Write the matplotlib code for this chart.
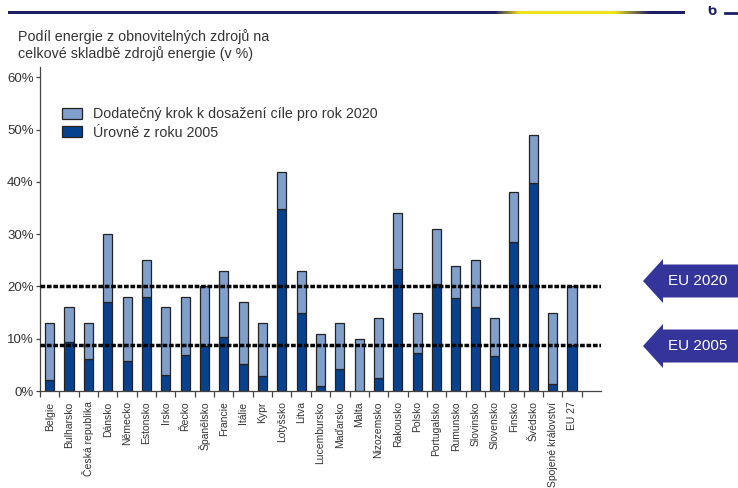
import matplotlib
matplotlib.use('Agg')
import matplotlib.pyplot as plt
import numpy as np
from matplotlib.patches import Polygon, Patch
from matplotlib.lines import Line2D

countries = ["Belgie", "Bulharsko", "Česká republika", "Dánsko", "Německo", "Estonsko",
             "Irsko", "Řecko", "Španělsko", "Francie", "Itálie", "Kypr", "Lotyšsko",
             "Litva", "Lucembursko", "Maďarsko", "Malta", "Nizozemsko", "Rakousko",
             "Polsko", "Portugalsko", "Rumunsko", "Slovinsko", "Slovensko", "Finsko",
             "Švédsko", "Spojené království", "EU 27"]
level_2005 = [2.2, 9.4, 6.1, 17.0, 5.8, 18.0, 3.1, 6.9, 8.7, 10.3, 5.2, 2.9, 34.9,
              15.0, 0.9, 4.3, 0.0, 2.4, 23.3, 7.2, 20.5, 17.8, 16.0, 6.7, 28.5,
              39.8, 1.3, 8.8]
target_2020 = [13, 16, 13, 30, 18, 25, 16, 18, 20, 23, 17, 13, 42, 23, 11, 13, 10,
               14, 34, 15, 31, 24, 25, 14, 38, 49, 15, 20]
eu_lines = [20, 8.8]
eu_labels = ["EU 2020", "EU 2005"]
ytick_values = [0, 10, 20, 30, 40, 50, 60]
legend_labels = ["Dodatečný krok k dosažení cíle pro rok 2020", "Úrovně z roku 2005"]
title = "Podíl energie z obnovitelných zdrojů na\ncelkové skladbě zdrojů energie (v %)"

plt.rcParams['font.family'] = ['Liberation Sans', 'DejaVu Sans']

W, H = 738, 488
fig = plt.figure(figsize=(7.38, 4.88), dpi=100)


def fx(px):
    return px / W


def fy(py):
    return 1 - py / H


LIGHT = '#809fcb'
DARK = '#08428f'
EDGE = '#222222'
NAVY = '#1c1f63'
ARROW = '#34349a'
TXT = '#333333'

ax = fig.add_axes([fx(40), fy(391), fx(601) - fx(40), fy(67) - fy(391)])
x = np.arange(len(countries))
base = np.array(level_2005)
extra = np.array(target_2020) - base
ax.bar(x, base, width=0.47, color=DARK, edgecolor=EDGE, linewidth=0.9, zorder=2)
ax.bar(x, extra, bottom=base, width=0.47, color=LIGHT, edgecolor=EDGE, linewidth=0.9, zorder=2)

for v in eu_lines:
    ax.axhline(v, color='black', lw=2.5, linestyle=(0, (1.35, 0.5)), zorder=3)

ax.set_xlim(-0.5, 28.5)
ax.set_ylim(0, 62)
for s in ['top', 'right']:
    ax.spines[s].set_visible(False)
for s in ['left', 'bottom']:
    ax.spines[s].set_color('#444444')
    ax.spines[s].set_linewidth(0.9)

ax.set_xticks(x)
ax.set_xticklabels(countries, rotation=90, fontsize=7.5, color=TXT)
ax.set_xticks(np.arange(-0.5, len(countries), 1), minor=True)
ax.tick_params(axis='x', which='major', length=0, pad=7.5)
ax.tick_params(axis='x', which='minor', length=4, width=0.9, color='#444444', direction='out')
ax.set_yticks(ytick_values)
ax.set_yticklabels([f"{v}%" for v in ytick_values])
ax.tick_params(axis='y', length=3, width=0.9, color='#444444', pad=1.5, labelsize=9.5, labelcolor=TXT)

handles = [Patch(facecolor=LIGHT, edgecolor=EDGE, linewidth=0.9, label=legend_labels[0]),
           Patch(facecolor=DARK, edgecolor=EDGE, linewidth=0.9, label=legend_labels[1])]
fig.legend(handles=handles, loc='upper left', bbox_to_anchor=(fx(62), fy(107)),
           frameon=False, fontsize=10.3, handlelength=1.4, handleheight=0.8,
           handletextpad=0.8, labelspacing=0.33, borderpad=0, borderaxespad=0,
           labelcolor=TXT)

fig.text(fx(18), fy(29), title, ha='left', va='top', fontsize=10.3, color=TXT, linespacing=1.15)

# arrows
for cy, label in zip([281, 346], eu_labels):
    pts = [(643, cy), (663, cy - 22), (663, cy - 16.5), (740, cy - 16.5),
           (740, cy + 16.5), (663, cy + 16.5), (663, cy + 22)]
    poly = Polygon([(fx(a), fy(b)) for a, b in pts], closed=True,
                   transform=fig.transFigure, facecolor=ARROW, edgecolor='none')
    fig.add_artist(poly)
    fig.text(fx(698), fy(cy), label, ha='center', va='center', color='white', fontsize=11)

# top banner line with gradient
bax = fig.add_axes([fx(8), fy(14), fx(685) - fx(8), 3 / H])
bax.axis('off')
xs = np.linspace(8, 685, 700)
navy = np.array(matplotlib.colors.to_rgb(NAVY))
yellow = np.array(matplotlib.colors.to_rgb('#f3e31c'))
w = np.interp(xs, [8, 495, 520, 615, 650, 685], [0, 0, 1, 1, 0, 0])
cols = navy[None, :] * (1 - w[:, None]) + yellow[None, :] * w[:, None]
bax.imshow(cols[None, :, :], aspect='auto', extent=[0, 1, 0, 1])
bax.set_xlim(0, 1)
bax.set_ylim(0, 1)
fig.add_artist(Line2D([fx(725), fx(738)], [fy(12.5), fy(12.5)], color=NAVY, lw=2,
                      transform=fig.transFigure))
# partially visible page number (cut at the top like in the slide)
cax = fig.add_axes([fx(704), fy(15), fx(16), fy(6) - fy(15)])
cax.axis('off')
cax.text(0.5, 0.0, '6', transform=cax.transAxes, ha='center', va='baseline',
         fontsize=12, color=NAVY, fontweight='bold', clip_on=True)

fig.savefig('out.png', dpi=100)
